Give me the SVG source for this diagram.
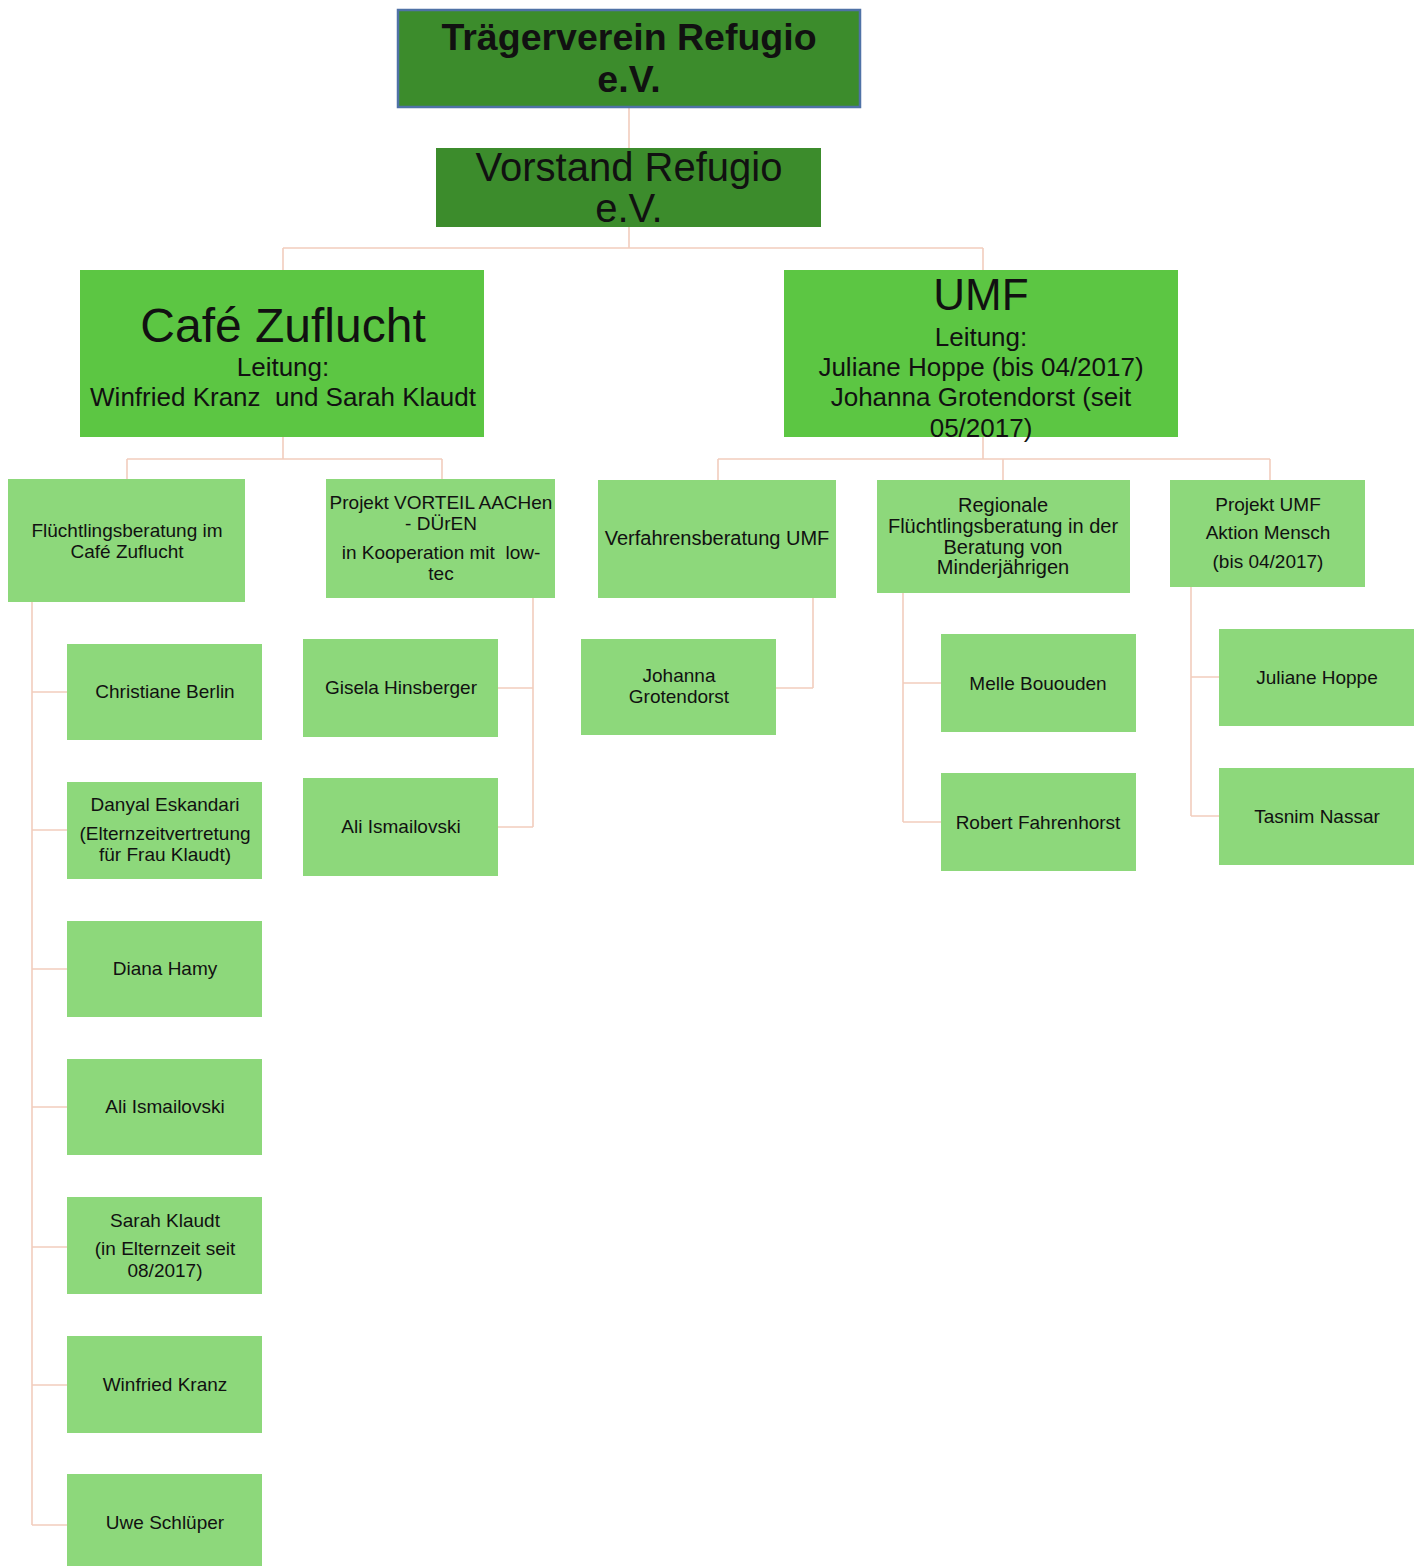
<svg xmlns="http://www.w3.org/2000/svg" width="1418" height="1566" viewBox="0 0 1418 1566">
<style>
text{font-family:"Liberation Sans",Arial,sans-serif;fill:#111;text-anchor:middle;white-space:pre}
.top{fill:#3c8c2c;stroke:#4f72a6;stroke-width:2.5}
.dark{fill:#3c8c2c}
.mid{fill:#5cc643}
.light{fill:#8dd87b}
.conn{fill:none;stroke:#f2cdbd;stroke-width:1.6}
.t1{font-size:37.5px;font-weight:bold}
.t2{font-size:40px}
.big{font-size:48px}
.umf{font-size:44px}
.lead{font-size:26px}
.s3{font-size:20px}
.s4{font-size:19px}
</style>
<rect width="1418" height="1566" fill="#fff"/>
<g id="connectors">
<path class="conn" d="M629 107V148M629 227V248M283 248H983M283 248V270M983 248V270"/>
<path class="conn" d="M283 437V459M127 459H442M127 459V479M442 459V479"/>
<path class="conn" d="M983 437V459M718 459H1270M718 459V480M1003 459V480M1270 459V480"/>
<path class="conn" d="M32 602V1525M32 692H67M32 830H67M32 969H67M32 1107H67M32 1247H67M32 1385H67M32 1525H67"/>
<path class="conn" d="M533 598V827M498 688H533M498 827H533"/>
<path class="conn" d="M813 598V688M776 688H813"/>
<path class="conn" d="M903 593V822M903 683H941M903 822H941"/>
<path class="conn" d="M1191 587V816M1191 677H1219M1191 816H1219"/>
</g>
<g id="traegerverein"><rect class="top" x="398" y="10" width="462" height="97"/><text class="t1" x="629" y="50">Trägerverein Refugio</text><text class="t1" x="629" y="92">e.V.</text></g>
<g id="vorstand"><rect class="dark" x="436" y="148" width="385" height="79"/><text class="t2" x="629" y="181">Vorstand Refugio</text><text class="t2" x="629" y="222">e.V.</text></g>
<g id="cafe"><rect class="mid" x="80" y="270" width="404" height="167"/><text class="big" x="283" y="342">Café Zuflucht</text><text class="lead" x="283" y="376">Leitung:</text><text class="lead" x="283" y="406">Winfried Kranz  und Sarah Klaudt</text></g>
<g id="umf"><rect class="mid" x="784" y="270" width="394" height="167"/><text class="umf" x="981" y="310">UMF</text><text class="lead" x="981" y="346">Leitung:</text><text class="lead" x="981" y="376">Juliane Hoppe (bis 04/2017)</text><text class="lead" x="981" y="406">Johanna Grotendorst (seit</text><text class="lead" x="981" y="437">05/2017)</text></g>
<g id="fluechtlingsberatung"><rect class="light" x="8" y="479" width="237" height="123"/><text class="s4" x="127" y="537">Flüchtlingsberatung im</text><text class="s4" x="127" y="558">Café Zuflucht</text></g>
<g id="vorteil"><rect class="light" x="326" y="479" width="229" height="119"/><text class="s4" x="441" y="509">Projekt VORTEIL AACHen</text><text class="s4" x="441" y="530">- DÜrEN</text><text class="s4" x="441" y="559">in Kooperation mit  low-</text><text class="s4" x="441" y="580">tec</text></g>
<g id="verfahrensberatung"><rect class="light" x="598" y="480" width="238" height="118"/><text class="s3" x="717" y="545">Verfahrensberatung UMF</text></g>
<g id="regionale"><rect class="light" x="877" y="480" width="253" height="113"/><text class="s3" x="1003" y="512">Regionale</text><text class="s3" x="1003" y="533">Flüchtlingsberatung in der</text><text class="s3" x="1003" y="554">Beratung von</text><text class="s3" x="1003" y="574">Minderjährigen</text></g>
<g id="projekt-umf"><rect class="light" x="1170" y="480" width="195" height="107"/><text class="s4" x="1268" y="511">Projekt UMF</text><text class="s4" x="1268" y="539">Aktion Mensch</text><text class="s4" x="1268" y="568">(bis 04/2017)</text></g>
<g id="christiane"><rect class="light" x="67" y="644" width="195" height="96"/><text class="s4" x="165" y="698">Christiane Berlin</text></g>
<g id="danyal"><rect class="light" x="67" y="782" width="195" height="97"/><text class="s4" x="165" y="811">Danyal Eskandari</text><text class="s4" x="165" y="840">(Elternzeitvertretung</text><text class="s4" x="165" y="861">für Frau Klaudt)</text></g>
<g id="diana"><rect class="light" x="67" y="921" width="195" height="96"/><text class="s4" x="165" y="975">Diana Hamy</text></g>
<g id="ali1"><rect class="light" x="67" y="1059" width="195" height="96"/><text class="s4" x="165" y="1113">Ali Ismailovski</text></g>
<g id="sarah"><rect class="light" x="67" y="1197" width="195" height="97"/><text class="s4" x="165" y="1227">Sarah Klaudt</text><text class="s4" x="165" y="1255">(in Elternzeit seit</text><text class="s4" x="165" y="1277">08/2017)</text></g>
<g id="winfried"><rect class="light" x="67" y="1336" width="195" height="97"/><text class="s4" x="165" y="1391">Winfried Kranz</text></g>
<g id="uwe"><rect class="light" x="67" y="1474" width="195" height="92"/><text class="s4" x="165" y="1529">Uwe Schlüper</text></g>
<g id="gisela"><rect class="light" x="303" y="639" width="195" height="98"/><text class="s4" x="401" y="694">Gisela Hinsberger</text></g>
<g id="ali2"><rect class="light" x="303" y="778" width="195" height="98"/><text class="s4" x="401" y="833">Ali Ismailovski</text></g>
<g id="johanna"><rect class="light" x="581" y="639" width="195" height="96"/><text class="s4" x="679" y="682">Johanna</text><text class="s4" x="679" y="703">Grotendorst</text></g>
<g id="melle"><rect class="light" x="941" y="634" width="195" height="98"/><text class="s4" x="1038" y="690">Melle Bououden</text></g>
<g id="robert"><rect class="light" x="941" y="773" width="195" height="98"/><text class="s4" x="1038" y="829">Robert Fahrenhorst</text></g>
<g id="juliane"><rect class="light" x="1219" y="629" width="195" height="97"/><text class="s4" x="1317" y="684">Juliane Hoppe</text></g>
<g id="tasnim"><rect class="light" x="1219" y="768" width="195" height="97"/><text class="s4" x="1317" y="823">Tasnim Nassar</text></g>
</svg>
